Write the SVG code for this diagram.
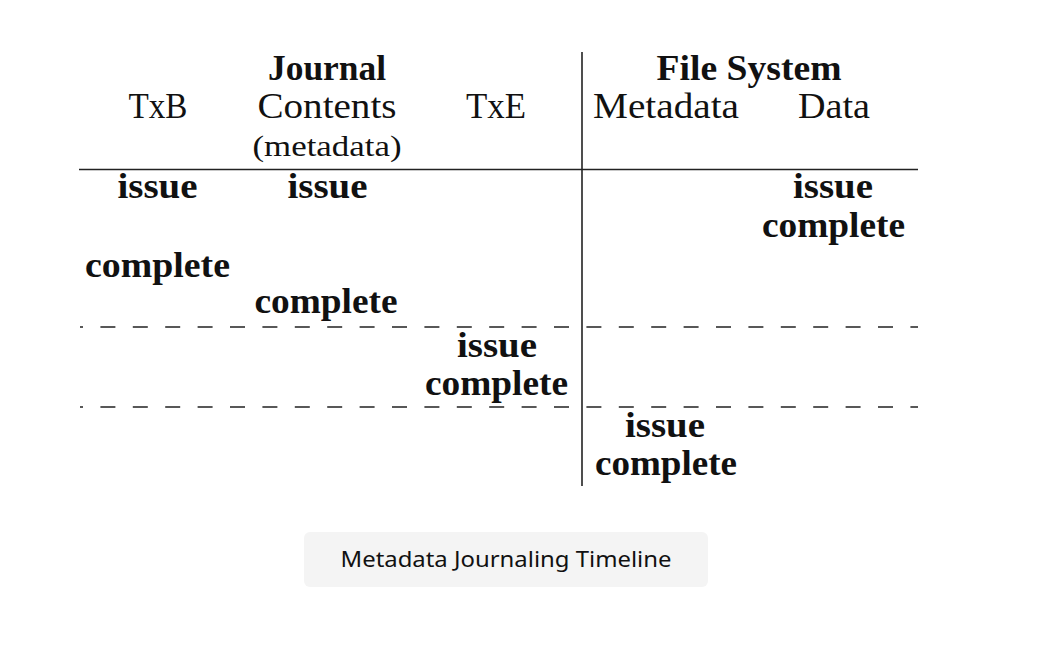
<svg xmlns="http://www.w3.org/2000/svg" width="1062" height="646" viewBox="0 0 1062 646">
<style>
.h{font-family:"Liberation Serif","Times New Roman",serif;font-size:36px;fill:#111;text-anchor:middle}
.b{font-family:"Liberation Serif","Times New Roman",serif;font-size:36px;font-weight:bold;fill:#111;text-anchor:middle}
.ln{stroke:#222;stroke-width:1.6;fill:none}
.dl{stroke:#222;stroke-width:1.6;fill:none;stroke-dasharray:15 17.4;stroke-dashoffset:12}
.cap{font-family:"Noto Sans","Lato",sans-serif;font-size:22px;fill:#111;text-anchor:middle}
</style>
<rect width="1062" height="646" fill="#fff"/>
<g id="connectors">
<line class="dl" x1="80" y1="327" x2="918" y2="327"/>
<line class="dl" x1="80" y1="407" x2="918" y2="407"/>
<line class="ln" x1="79" y1="169.5" x2="918" y2="169.5"/>
<line class="ln" x1="582" y1="52" x2="582" y2="486"/>
</g>
<g id="header">
<text class="b" x="327" y="80" textLength="118" lengthAdjust="spacingAndGlyphs">Journal</text>
<text class="b" x="749" y="80" textLength="185" lengthAdjust="spacingAndGlyphs">File System</text>
<text class="h" x="158" y="118" textLength="59" lengthAdjust="spacingAndGlyphs">TxB</text>
<text class="h" x="327" y="118" textLength="139" lengthAdjust="spacingAndGlyphs">Contents</text>
<text class="h" x="496" y="118" textLength="60" lengthAdjust="spacingAndGlyphs">TxE</text>
<text class="h" x="666" y="118" textLength="146" lengthAdjust="spacingAndGlyphs">Metadata</text>
<text class="h" x="834" y="118" textLength="72" lengthAdjust="spacingAndGlyphs">Data</text>
<text class="h" x="327" y="156" style="font-size:30px" textLength="149" lengthAdjust="spacingAndGlyphs">(metadata)</text>
</g>
<g id="txb">
<text class="b" x="157.5" y="198" textLength="80" lengthAdjust="spacingAndGlyphs">issue</text>
<text class="b" x="157.5" y="277" textLength="145" lengthAdjust="spacingAndGlyphs">complete</text>
</g>
<g id="contents">
<text class="b" x="327.5" y="198" textLength="80" lengthAdjust="spacingAndGlyphs">issue</text>
<text class="b" x="326" y="313" textLength="143" lengthAdjust="spacingAndGlyphs">complete</text>
</g>
<g id="txe">
<text class="b" x="497" y="357" textLength="80" lengthAdjust="spacingAndGlyphs">issue</text>
<text class="b" x="496.5" y="395" textLength="143" lengthAdjust="spacingAndGlyphs">complete</text>
</g>
<g id="fs-metadata">
<text class="b" x="665" y="437" textLength="80" lengthAdjust="spacingAndGlyphs">issue</text>
<text class="b" x="666" y="475" textLength="142" lengthAdjust="spacingAndGlyphs">complete</text>
</g>
<g id="fs-data">
<text class="b" x="833" y="198" textLength="80" lengthAdjust="spacingAndGlyphs">issue</text>
<text class="b" x="833.5" y="237" textLength="143" lengthAdjust="spacingAndGlyphs">complete</text>
</g>
<g id="caption">
<rect x="304" y="532" width="404" height="55" rx="6" fill="#f4f4f4"/>
<text class="cap" x="506" y="567" textLength="331" lengthAdjust="spacingAndGlyphs">Metadata Journaling Timeline</text>
</g>
</svg>
